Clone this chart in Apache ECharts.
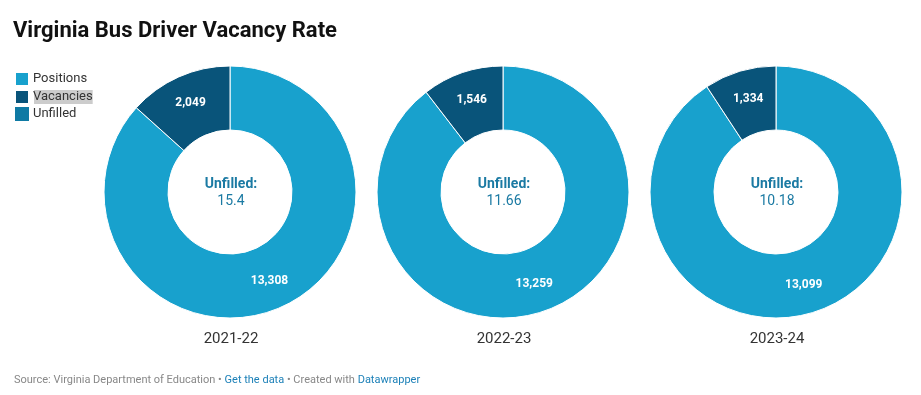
<!DOCTYPE html>
<html><head><meta charset="utf-8">
<script src="https://cdn.jsdelivr.net/npm/echarts@6/dist/echarts.min.js"></script>
<style>html,body{margin:0;padding:0;background:#fff}#c{width:921px;height:395px}</style>
</head><body><div id="c"></div>
<script>
const years = ['2021-22', '2022-23', '2023-24'];
const positions = [13308, 13259, 13099];
const vacancies = [2049, 1546, 1334];
const unfilled = ['15.4', '11.66', '10.18'];
const seriesNames = ['Positions', 'Vacancies', 'Unfilled'];
const colors = ['#18a1cd', '#09547a', '#0f7aa4'];

const centersX = [230, 503, 776];
const centerY = 192;
const chart = echarts.init(document.getElementById('c'));
const FONT = 'Roboto';

const series = years.map((y, i) => ({
  type: 'pie',
  name: y,
  center: [centersX[i], centerY],
  radius: [62, 126],
  startAngle: 90,
  clockwise: true,
  avoidLabelOverlap: false,
  silent: true,
  itemStyle: { borderColor: '#fff', borderWidth: 1 },
  label: {
    show: true, position: 'inside', color: '#fff', fontFamily: FONT,
    fontWeight: 'bold', fontSize: 12,
    formatter: p => p.value.toLocaleString('en-US')
  },
  labelLine: { show: false },
  data: [
    { name: seriesNames[0], value: positions[i], itemStyle: { color: colors[0] } },
    { name: seriesNames[1], value: vacancies[i], itemStyle: { color: colors[1] } },
    { name: seriesNames[2], value: 0, itemStyle: { color: colors[2], borderWidth: 0 }, label: { show: false } }
  ]
}));

const titles = [{
  text: 'Virginia Bus Driver Vacancy Rate', left: 8, top: 15,
  textStyle: { fontFamily: FONT, fontSize: 22, fontWeight: 'bold', color: '#111' }
}, {
  text: '{g|Source: Virginia Department of Education • }{b|Get the data}{g| • Created with }{b|Datawrapper}',
  left: 9, top: 370,
  textStyle: { fontWeight: 'normal', rich: {
    g: { fontFamily: FONT, fontSize: 11, fontWeight: 'normal', color: '#888' },
    b: { fontFamily: FONT, fontSize: 11, fontWeight: 'normal', color: '#1d81b8' }
  } }
}];
years.forEach((y, i) => {
  titles.push({
    text: 'Unfilled:', subtext: unfilled[i], left: centersX[i] - 4, top: 172, textAlign: 'center', itemGap: 3,
    textStyle: { fontFamily: FONT, fontSize: 14, fontWeight: 'bold', color: '#1b7aa3' },
    subtextStyle: { fontFamily: FONT, fontSize: 14, color: '#1b7aa3' }
  });
  titles.push({
    text: y, left: centersX[i] - 4, top: 327, textAlign: 'center',
    textStyle: { fontFamily: FONT, fontSize: 15, fontWeight: 'normal', color: '#333' }
  });
});

chart.setOption({
  animation: false,
  color: colors,
  title: titles,
  legend: {
    orient: 'vertical', left: 9, top: 66, itemWidth: 14, itemHeight: 14, itemGap: 2,
    icon: 'rect', selectedMode: false,
    textStyle: { fontFamily: FONT, fontSize: 13, lineHeight: 14, color: '#333', padding: [0, 0, 0, -1] },
    data: [
      { name: seriesNames[0] },
      { name: seriesNames[1], textStyle: { backgroundColor: '#ccc' } },
      { name: seriesNames[2] }
    ]
  },
  series: series
});
</script></body></html>
